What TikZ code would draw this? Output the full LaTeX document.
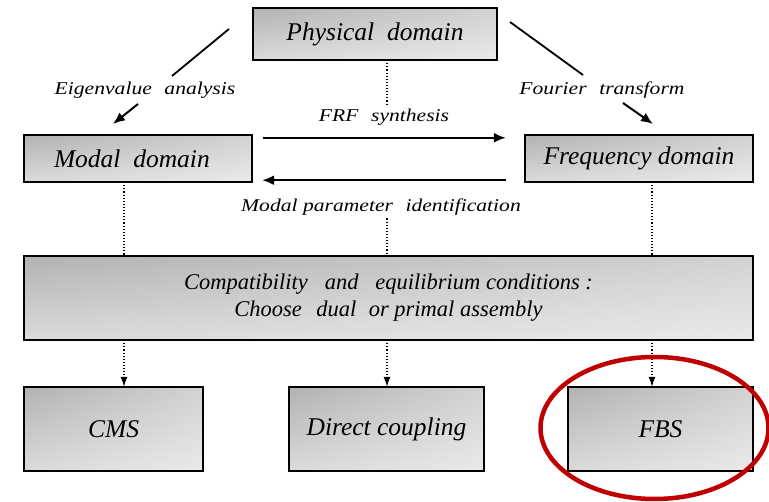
\documentclass[tikz,border=0pt]{standalone}
\usepackage{fontspec}
\newfontfamily\boxfont{Liberation Serif Italic}
\newfontfamily\labfont[FakeStretch=1.2]{Liberation Serif Italic}
\usetikzlibrary{arrows.meta,fadings}
\definecolor{ringred}{RGB}{192,0,0}
\begin{document}
\begin{tikzpicture}[x=1pt,y=-1pt,
  box/.style={top color=black!30, bottom color=black!14,
    postaction={fill=white, fill opacity=0.42, path fading=west},
    postaction={draw=black, line width=1.6pt},
    font=\boxfont\fontsize{25.5}{28}\selectfont, inner sep=0pt},
  lab/.style={font=\labfont\fontsize{18}{20}\selectfont, inner sep=1pt},
  solidarrow/.style={line width=2pt, -{Latex[length=12pt,width=10pt]}},
  dotline/.style={line width=1.1pt, dotted},
  dotarrow/.style={line width=1.1pt, dotted, -{Latex[length=10pt,width=7pt]}}
]
\useasboundingbox (0,0) rectangle (769,502);
% columns
\coordinate (c1) at (124,0);
\coordinate (c2) at (387,0);
\coordinate (c3) at (652,0);

\node[box, minimum width=244pt, minimum height=52pt] (phys) at (375,34) {Physical\hspace{0.5em}domain};
\node[box, minimum width=228pt, minimum height=47pt, text width=220pt, align=left] (modal) at (138,158.5) {\hspace{26pt}Modal\hspace{0.5em}domain};
\node[box, minimum width=228pt, minimum height=47pt] (freq) at (639,158.5) {Frequency domain};
\node[box, minimum width=729pt, minimum height=84pt, align=center,
  font=\boxfont\fontsize{22.5}{27}\selectfont] (big) at (388.5,298)
  {\raisebox{-3pt}{Compatibility\hspace{0.5em} and\hspace{0.5em} equilibrium conditions :}\\\raisebox{-3pt}{Choose\hspace{0.4em} dual\hspace{0.3em} or primal assembly}};
\node[box, minimum width=179pt, minimum height=84pt] (cms) at (113.5,429) {CMS};
\node[box, minimum width=195pt, minimum height=84pt] (dc) at (386.5,429) {Direct coupling};
\node[box, minimum width=185pt, minimum height=84pt] (fbs) at (660.5,429) {FBS};

\node[lab] (eig) at (145,90) {Eigenvalue\hspace{0.4em} analysis};
\node[lab] (four) at (602,90) {Fourier\hspace{0.4em} transform};
\node[lab] (frf) at (384,117) {FRF\hspace{0.4em} synthesis};
\node[lab] (mpi) at (381,207) {Modal parameter\hspace{0.4em} identification};

% diagonal connectors
\coordinate (e1) at (229,29);
\coordinate (e2) at (172,76);
\coordinate (e3) at (138,104);
\coordinate (e4) at (113,124);
\draw[line width=1.8pt] (e1) -- (e2);
\draw[solidarrow] (e3) -- (e4);
\coordinate (f1) at (510,22);
\coordinate (f2) at (583,75);
\coordinate (f3) at (623,103);
\coordinate (f4) at (653,124);
\draw[line width=1.8pt] (f1) -- (f2);
\draw[solidarrow] (f3) -- (f4);

% horizontal arrows
\draw[solidarrow] ([xshift=11pt,yshift=-3pt]modal.north east) -- ([xshift=-19pt,yshift=-3pt]freq.north west);
\draw[solidarrow] ([xshift=-19pt,yshift=2pt]freq.south west) -- ([xshift=10pt,yshift=2pt]modal.south east);

% dotted connectors
\draw[dotline] (phys.south -| c2) -- ([yshift=3pt]frf.north -| c2);
\draw[dotline] (modal.south -| c1) -- (big.north -| c1);
\draw[dotline] ([yshift=-2pt]mpi.south -| c2) -- (big.north -| c2);
\draw[dotline] (freq.south -| c3) -- (big.north -| c3);
\draw[dotarrow] (big.south -| c1) -- (cms.north -| c1);
\draw[dotarrow] (big.south -| c2) -- (dc.north -| c2);
\draw[dotarrow] (big.south -| c3) -- (fbs.north -| c3);

% red ring
\draw[ringred, line width=4.5pt] (654.5,428) ellipse [x radius=114, y radius=71];
\end{tikzpicture}
\end{document}
